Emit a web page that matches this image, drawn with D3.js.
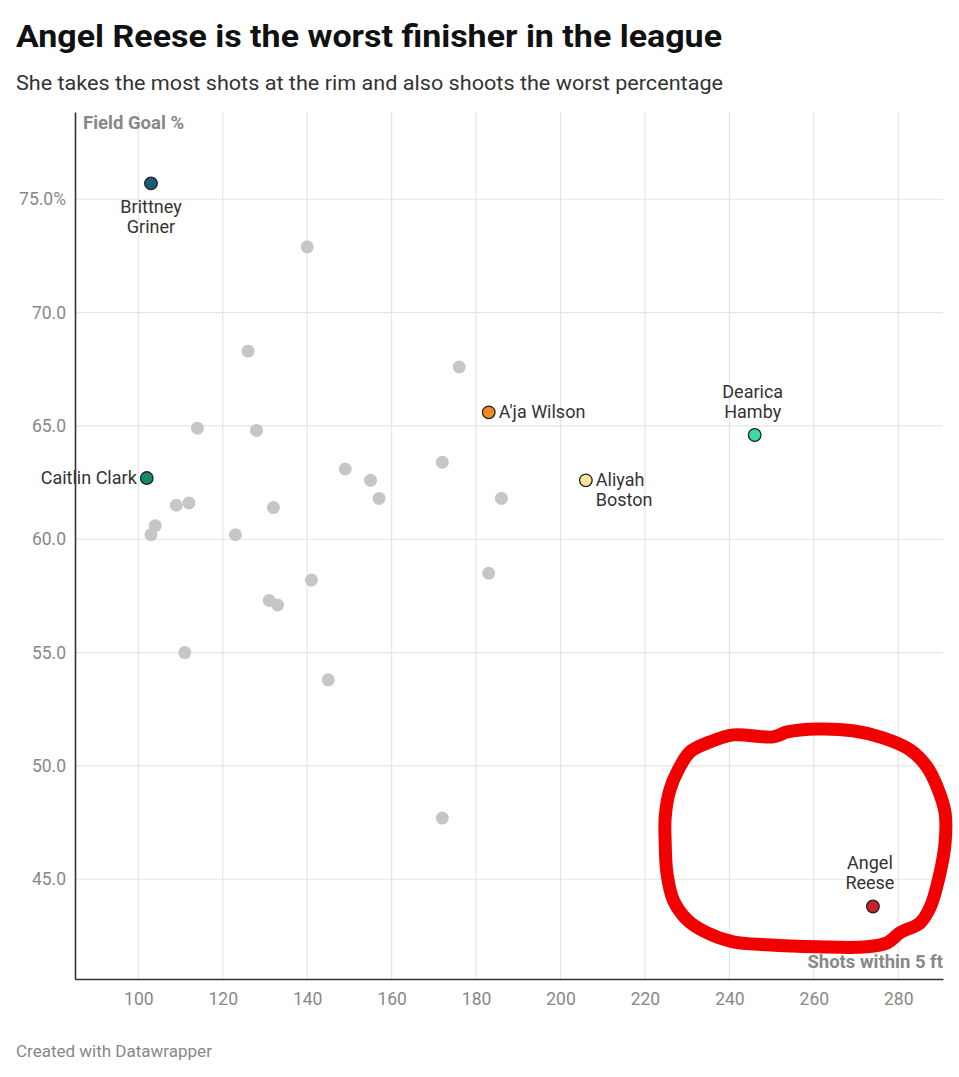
<!DOCTYPE html>
<html><head><meta charset="utf-8">
<script src="https://cdn.jsdelivr.net/npm/d3@7"></script>
<style>
html,body{margin:0;padding:0;background:#fff;}
svg{display:block;font-family:Roboto,"Noto Sans",sans-serif;}
</style></head>
<body>
<svg id="c" width="959" height="1077"></svg>
<script>
// ---- data ----
const grayShots = [140,126,176,114,128,149,155,157,172,186,109,112,104,103,132,123,141,131,133,183,111,145,172];
const grayFG    = [72.9,68.3,67.6,64.9,64.8,63.1,62.6,61.8,63.4,61.8,61.5,61.6,60.6,60.2,61.4,60.2,58.2,57.3,57.1,58.5,55.0,53.8,47.7];
const hlNames  = ["Brittney Griner","Caitlin Clark","A'ja Wilson","Aliyah Boston","Dearica Hamby","Angel Reese"];
const hlShots  = [103,102,183,206,246,274];
const hlFG     = [75.7,62.7,65.6,62.6,64.6,43.8];
const hlColors = ["#1b5b75","#14896b","#ec8a1f","#f8e39c","#3fd8a3","#c8232d"];
const xTicks = [100,120,140,160,180,200,220,240,260,280];
const yTicks = [45,50,55,60,65,70,75];
// hand-drawn annotation ring, in data units (shots, FG%)
const ringShots = [230.7,235.4,240.9,250.4,253.7,260.8,269.3,276.4,282.8,286.8,289.2,291.1,291.1,289.9,287.6,285.2,280.4,277.4,272.6,260.8,248.9,240.9,234.7,230,226.7,225.2,224.8,224.8,225.9,227.9];
const ringFG    = [50.62,51.06,51.37,51.28,51.5,51.63,51.55,51.24,50.71,49.96,49.08,47.93,46.61,45.28,43.78,43.08,42.64,42.2,42.02,42.02,42.11,42.24,42.64,43.21,44.09,45.28,46.61,47.75,48.94,49.83];

const svg = d3.select("#c");
const M = {left:75, right:16, top:112, bottom:98};
const W = 959, H = 1077;
const x = d3.scaleLinear().domain([85, 290.6]).range([M.left, W - M.right]);
const y = d3.scaleLinear().domain([40.6, 78.85]).range([H - M.bottom, M.top]);

// title / subtitle
svg.append("text").attr("x",16).attr("y",47).attr("font-size",32).attr("font-weight",700).attr("fill","#111")
  .attr("textLength",706).attr("lengthAdjust","spacingAndGlyphs")
  .text("Angel Reese is the worst finisher in the league");
svg.append("text").attr("x",16).attr("y",90).attr("font-size",21).attr("fill","#333")
  .attr("textLength",707).attr("lengthAdjust","spacingAndGlyphs")
  .text("She takes the most shots at the rim and also shoots the worst percentage");

// grid
const g = svg.append("g");
g.selectAll(".vg").data(xTicks).join("line")
  .attr("x1",d=>x(d)).attr("x2",d=>x(d)).attr("y1",M.top).attr("y2",H-M.bottom)
  .attr("stroke","#e5e5e5").attr("stroke-width",1.2);
g.selectAll(".hg").data(yTicks).join("line")
  .attr("x1",M.left).attr("x2",W-M.right).attr("y1",d=>y(d)).attr("y2",d=>y(d))
  .attr("stroke","#e5e5e5").attr("stroke-width",1.2);

// axes
const xAxis = d3.axisBottom(x).tickValues(xTicks).tickSize(0).tickPadding(14);
const gx = svg.append("g").attr("transform",`translate(0,${H-M.bottom})`).call(xAxis);
gx.select(".domain").attr("stroke","#333").attr("stroke-width",1.6);
gx.selectAll("text").attr("font-size",17.5).attr("fill","#888").attr("font-family","Roboto,sans-serif");

const yAxis = d3.axisLeft(y).tickValues(yTicks).tickSize(0).tickPadding(9)
  .tickFormat(d => d===75 ? d3.format(".1f")(d)+"%" : d3.format(".1f")(d));
const gy = svg.append("g").attr("transform",`translate(${M.left},0)`).call(yAxis);
gy.select(".domain").attr("stroke","#333").attr("stroke-width",1.6);
gy.selectAll("text").attr("font-size",17.5).attr("fill","#888").attr("font-family","Roboto,sans-serif");

svg.append("text").attr("x",M.left+8).attr("y",M.top+17).attr("font-size",18.5).attr("font-weight",700).attr("fill","#888")
  .text("Field Goal %");
svg.append("text").attr("x",W-M.right).attr("y",H-M.bottom-11).attr("text-anchor","end").attr("font-size",18.5).attr("font-weight",700).attr("fill","#888")
  .text("Shots within 5 ft");

// gray points
const grays = grayShots.map((s,i)=>({s, f:grayFG[i]}));
svg.append("g").selectAll("circle").data(grays).join("circle")
  .attr("cx",d=>x(d.s)).attr("cy",d=>y(d.f)).attr("r",6.5).attr("fill","#c6c6c6");

// highlighted
const hl = hlNames.map((n,i)=>({n, s:hlShots[i], f:hlFG[i], c:hlColors[i]}));
svg.append("g").selectAll("circle").data(hl).join("circle")
  .attr("cx",d=>x(d.s)).attr("cy",d=>y(d.f)).attr("r",6.3).attr("fill",d=>d.c)
  .attr("stroke","#222").attr("stroke-width",1.3);

// labels
const lab = svg.append("g").attr("font-size",18).attr("fill","#333");
function label(i, dx, dy, anchor, lines){
  const d = hl[i];
  const t = lab.append("text").attr("text-anchor",anchor);
  lines.forEach((ln,k)=>{
    t.append("tspan").attr("x",x(d.s)+dx).attr("y",y(d.f)+dy+k*20).text(ln);
  });
}
label(0, 0, 30, "middle", ["Brittney","Griner"]);
label(1, -10, 6, "end", ["Caitlin Clark"]);
label(2, 10, 6, "start", ["A'ja Wilson"]);
label(3, 10, 6, "start", ["Aliyah","Boston"]);
label(4, -2, -37, "middle", ["Dearica","Hamby"]);
label(5, -3, -37, "middle", ["Angel","Reese"]);

// red ring annotation
const ring = ringShots.map((s,i)=>[x(s), y(ringFG[i])]);
svg.append("path").attr("d", d3.line().curve(d3.curveCatmullRomClosed)(ring))
  .attr("fill","none").attr("stroke","#f20000").attr("stroke-width",13).attr("stroke-linejoin","round");

// footer
svg.append("text").attr("x",16).attr("y",1057).attr("font-size",17).attr("fill","#888")
  .text("Created with Datawrapper");
</script>
</body></html>
